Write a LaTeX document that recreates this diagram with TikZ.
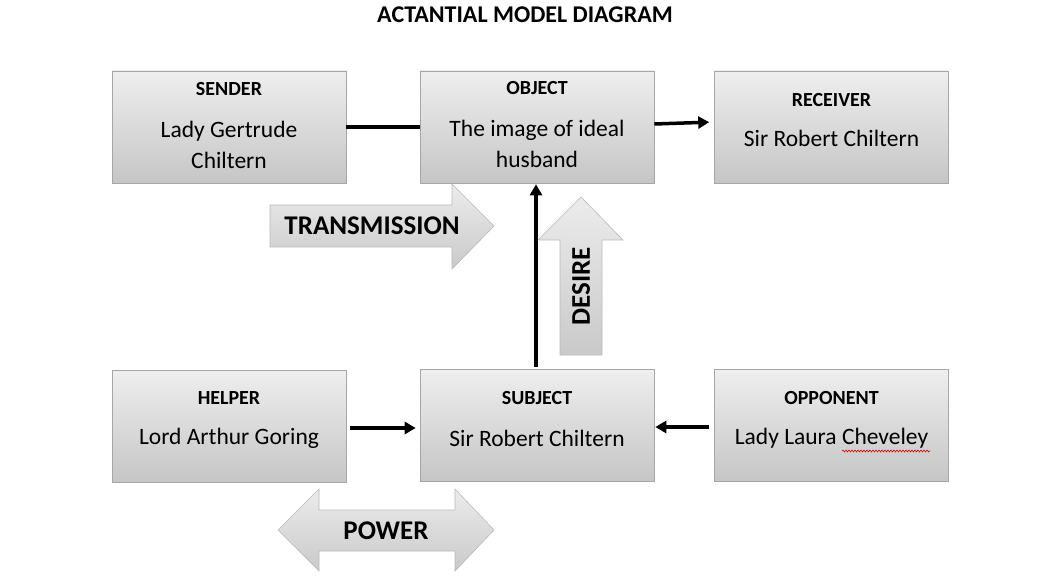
\documentclass[tikz,border=0pt]{standalone}
\usepackage{fontspec}
\setmainfont{Carlito}
\usetikzlibrary{arrows.meta,calc,decorations.pathmorphing}
\begin{document}
\begin{tikzpicture}[x=1pt,y=-1pt,
  box/.style={draw=gray!70, line width=0.6pt, top color=gray!13, bottom color=gray!45, minimum width=234pt, minimum height=112pt, inner sep=0pt},
  blockarrow/.style={draw=gray!55, line width=0.6pt, top color=gray!15, bottom color=gray!42},
  lbl/.style={font=\fontsize{20}{22}\selectfont\bfseries},
  body/.style={font=\fontsize{23.5}{31}\selectfont, align=center},
  big/.style={font=\fontsize{27}{30}\selectfont\bfseries},
  conn/.style={line width=3.5pt, -{Triangle[length=11pt,width=12pt]}}
]
\useasboundingbox (0,0) rectangle (1049,577);
\node[font=\fontsize{24}{26}\selectfont\bfseries] (title) at (525,15) {ACTANTIAL MODEL DIAGRAM};

% boxes
\node[box] (sender) at (229,127) {};
\node[box] (object) at (537,127) {};
\node[box] (receiver) at (831.5,127) {};
\node[box] (helper) at (229,426) {};
\node[box] (subject) at (537,425) {};
\node[box] (opponent) at (831.5,425) {};

% texts
\node[lbl] (senderL) at (229,89) {SENDER};
\node[body] (senderB) at (229,145) {Lady Gertrude\\Chiltern};
\node[lbl] (objectL) at (537,88) {OBJECT};
\node[body] (objectB) at (537,144) {The image of ideal\\husband};
\node[lbl] (receiverL) at (831.5,100) {RECEIVER};
\node[body] (receiverB) at (831.5,138) {Sir Robert Chiltern};
\node[lbl] (helperL) at (229,398) {HELPER};
\node[body] (helperB) at (229,438) {Lord Arthur Goring};
\node[lbl] (subjectL) at (537,398) {SUBJECT};
\node[body] (subjectB) at (537,438) {Sir Robert Chiltern};
\node[lbl] (opponentL) at (831.5,398) {OPPONENT};
\node[body] (opponentB) at (831.5,438) {Lady Laura Cheveley};
\coordinate (sqA) at (842,451);
\coordinate (sqB) at (930,451);
\draw[red!85!black, line width=0.6pt, decorate, decoration={snake, amplitude=0.9pt, segment length=3pt}] (sqA) -- (sqB);

% connectors
\draw[line width=3.5pt] (sender.east) -- (object.west);
\draw[conn, shorten >=5pt] ([yshift=3pt]object.east) -- ([yshift=5pt]receiver.west);
\draw[conn, shorten <=2pt, shorten >=1pt] ([xshift=-1pt]subject.north) -- ([xshift=-1pt]object.south);
\draw[conn, shorten <=4pt, shorten >=4pt] ([yshift=-2pt]helper.east) -- ([yshift=-3pt]subject.west);
\draw[conn, shorten <=5pt, shorten >=1pt] ([yshift=-2pt]opponent.west) -- ([yshift=-2pt]subject.east);

% block arrows
\draw[blockarrow] (270,205) -- (452,205) -- (452,184) -- (494,226) -- (452,269) -- (452,247) -- (270,247) -- cycle;
\node[big] (transmission) at (372,226) {TRANSMISSION};

\draw[blockarrow] (560,355) -- (560,240) -- (538,240) -- (581,197) -- (623,240) -- (602,240) -- (602,355) -- cycle;
\node[big, rotate=90] (desire) at (581,286) {DESIRE};

\draw[blockarrow] (278,530) -- (319,489) -- (319,510) -- (455,510) -- (455,489) -- (494,530) -- (455,571) -- (455,551) -- (319,551) -- (319,571) -- cycle;
\node[big] (power) at (386,531) {POWER};
\end{tikzpicture}
\end{document}
